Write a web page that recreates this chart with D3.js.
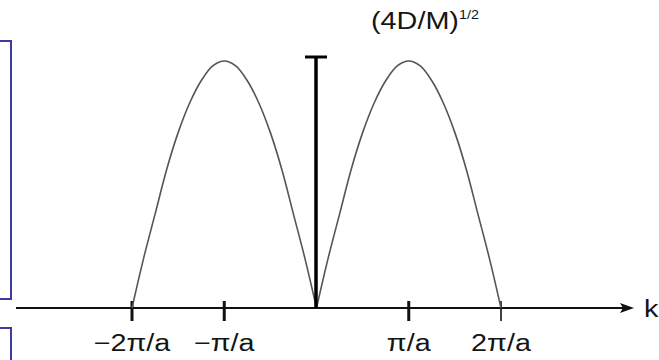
<!DOCTYPE html>
<html>
<head>
<meta charset="utf-8">
<script src="https://cdn.jsdelivr.net/npm/d3@7"></script>
<style>
  html, body { margin: 0; padding: 0; background: #fff; }
  svg { display: block; }
  text { font-family: "Liberation Sans", Arial, sans-serif; fill: #151515; }
</style>
</head>
<body>
<div id="chart"></div>
<script>
// ---- data (k in units of pi/a, omega in units of (4D/M)^1/2) ----
const leftK   = [-2, -1.875, -1.75, -1.625, -1.5, -1.375, -1.25, -1.125, -1, -0.875, -0.75, -0.625, -0.5, -0.375, -0.25, -0.125, 0];
const leftW   = [0, 0.2, 0.38, 0.56, 0.71, 0.83, 0.92, 0.98, 1, 0.98, 0.92, 0.83, 0.71, 0.56, 0.38, 0.2, 0];
const rightK  = [0, 0.125, 0.25, 0.375, 0.5, 0.625, 0.75, 0.875, 1, 1.125, 1.25, 1.375, 1.5, 1.625, 1.75, 1.875, 2];
const rightW  = [0, 0.2, 0.38, 0.56, 0.71, 0.83, 0.92, 0.98, 1, 0.98, 0.92, 0.83, 0.71, 0.56, 0.38, 0.2, 0];
const kTicks      = [-2, -1, 1, 2];
const kTickLabels = ["\u22122\u03c0/a", "\u2212\u03c0/a", "\u03c0/a", "2\u03c0/a"];
const yTopLabel   = "(4D/M)";
const yTopSup     = "1/2";
const xAxisLabel  = "k";

const W = 659, H = 360;
const svg = d3.select("#chart").append("svg").attr("width", W).attr("height", H);

const x = d3.scaleLinear().domain([-2, 2]).range([132, 501]);
const y = d3.scaleLinear().domain([0, 1]).range([308, 61]);

// decorative blue frames at the left edge (cropped slide boxes)
svg.append("rect").attr("x", -10).attr("y", 41).attr("width", 21).attr("height", 258)
  .attr("fill", "none").attr("stroke", "#3b3ba6").attr("stroke-width", 2);
svg.append("rect").attr("x", -10).attr("y", 328).attr("width", 21).attr("height", 50)
  .attr("fill", "none").attr("stroke", "#3b3ba6").attr("stroke-width", 2);

// horizontal axis with arrow
const axisY = y(0);
svg.append("line").attr("x1", 16).attr("x2", 631).attr("y1", axisY).attr("y2", axisY)
  .attr("stroke", "#111").attr("stroke-width", 2);
svg.append("path")
  .attr("d", `M634,${axisY} L620,${axisY - 5} L623,${axisY} L620,${axisY + 5} Z`)
  .attr("fill", "#111");
svg.append("text").attr("transform", `translate(644,${axisY + 9}) scale(1.2,1)`)
  .attr("font-size", 24).text(xAxisLabel);

// tick marks and labels
svg.selectAll("line.kt").data(kTicks).join("line").attr("class", "kt")
  .attr("x1", d => x(d)).attr("x2", d => x(d))
  .attr("y1", axisY - 7).attr("y2", axisY + 13)
  .attr("stroke", "#111").attr("stroke-width", d => d === 2 ? 1.6 : 3);
svg.selectAll("text.kl").data(kTicks).join("text").attr("class", "kl")
  .attr("transform", d => `translate(${x(d)},351) scale(1.25,1)`)
  .attr("text-anchor", "middle").attr("font-size", 23)
  .text((d, i) => kTickLabels[i]);

// curves
const line = d3.line().x(d => x(d[0])).y(d => y(d[1])).curve(d3.curveCatmullRom.alpha(0.5));
[[leftK, leftW], [rightK, rightW]].forEach(([ks, ws]) => {
  svg.append("path").datum(ks.map((k, i) => [k, ws[i]]))
    .attr("d", line).attr("fill", "none")
    .attr("stroke", "#555").attr("stroke-width", 1.6);
});

// vertical axis
const vx = x(0) - 0.5;
svg.append("line").attr("x1", vx).attr("x2", vx).attr("y1", axisY).attr("y2", 56)
  .attr("stroke", "#000").attr("stroke-width", 3.5);
svg.append("line").attr("x1", vx - 11).attr("x2", vx + 11).attr("y1", 57).attr("y2", 57)
  .attr("stroke", "#000").attr("stroke-width", 3);

// top label
const tl = svg.append("text").attr("transform", "translate(371,29) scale(1.2,1)")
  .attr("font-size", 24);
tl.append("tspan").text(yTopLabel);
tl.append("tspan").attr("font-size", 12).attr("dy", -10).text(yTopSup);
</script>
</body>
</html>
